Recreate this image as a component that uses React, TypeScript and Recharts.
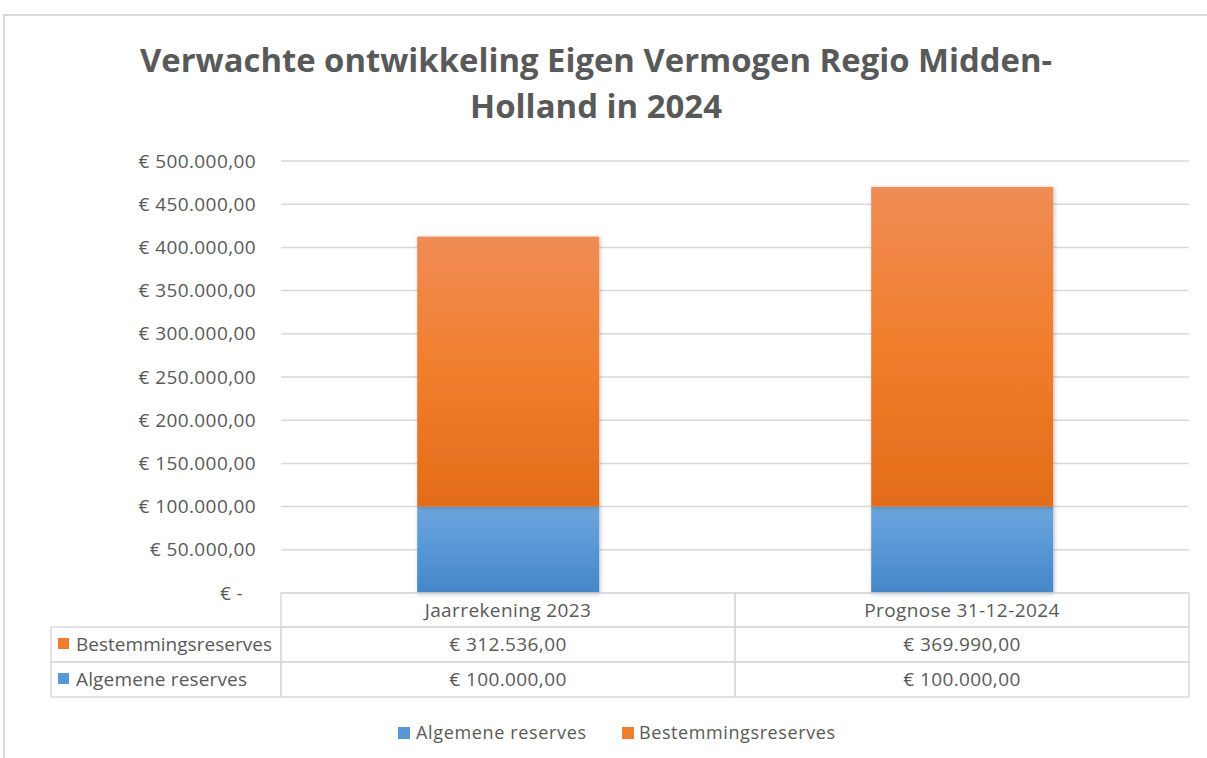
import React from 'react';
import { BarChart, Bar, XAxis, YAxis, CartesianGrid } from 'recharts';

const categories = ['Jaarrekening 2023', 'Prognose 31-12-2024'];
const algemeneReserves = [100000, 100000];
const bestemmingsReserves = [312536, 369990];
const yTicks = [0, 50000, 100000, 150000, 200000, 250000, 300000, 350000, 400000, 450000, 500000];
const seriesNames = ['Algemene reserves', 'Bestemmingsreserves'];
const titleLines = ['Verwachte ontwikkeling Eigen Vermogen Regio Midden-', 'Holland in 2024'];

const data = categories.map((c, i) => ({
  name: c,
  algemene: algemeneReserves[i],
  bestemmings: bestemmingsReserves[i],
}));

const W = 1207;
const H = 758;
const PLOT_L = 281;
const PLOT_R = 1189;
const PLOT_T = 161;
const PLOT_B = 593;
const ROWS = [593, 627, 662, 697];
const TABLE_L = 51;
const TEXT = '#595959';
const GRID = '#D9D9D9';
const FONT = '"Open Sans", sans-serif';
const X_AXIS_H = 105;
const FS = 19;
const LS = 0.4;

const euro = (v: number) => {
  const s = Math.round(v).toString().replace(/\B(?=(\d{3})+(?!\d))/g, '.');
  return '€ ' + s + ',00';
};

const YTick = (props: any) => {
  const { y, payload } = props;
  const v = payload.value;
  if (v === 0) {
    return (
      <text x={243} y={y + 6.5} textAnchor="end" fill={TEXT} fontSize={FS} fontFamily={FONT} letterSpacing={LS}>
        € -
      </text>
    );
  }
  return (
    <text x={256} y={y + 6.5} textAnchor="end" fill={TEXT} fontSize={FS} fontFamily={FONT} letterSpacing={LS}>
      {euro(v)}
    </text>
  );
};

const XTick = (props: any) => {
  const { x, payload } = props;
  const i = categories.indexOf(payload.value);
  const colW = (PLOT_R - PLOT_L) / categories.length;
  const left = x - colW / 2;
  const rowTexts = [payload.value, euro(bestemmingsReserves[i]), euro(algemeneReserves[i])];
  return (
    <g>
      {[0, 1, 2].map((r) => (
        <rect
          key={'r' + r}
          x={left}
          y={ROWS[r]}
          width={colW}
          height={ROWS[r + 1] - ROWS[r]}
          fill="none"
          stroke={GRID}
          strokeWidth={1.5}
        />
      ))}
      {rowTexts.map((t, r) => (
        <text
          key={'t' + r}
          x={x}
          y={(ROWS[r] + ROWS[r + 1]) / 2 + 6.5}
          textAnchor="middle"
          fill={TEXT}
          fontSize={FS}
          fontFamily={FONT}
          letterSpacing={LS}
        >
          {t}
        </text>
      ))}
    </g>
  );
};

const ShadowRect = (p: any) => (
  <rect x={p.x} y={p.y} width={p.width} height={p.height} fill={p.fill} filter="url(#barShadow)" />
);

export default function App() {
  return (
    <div style={{ position: 'absolute', left: 0, top: 0, width: W, height: H, background: '#fff' }}>
      <BarChart
        width={W}
        height={H}
        data={data}
        barCategoryGap="30%"
        margin={{ top: PLOT_T, right: W - PLOT_R, left: 0, bottom: H - PLOT_B - X_AXIS_H }}
      >
        <defs>
          <linearGradient id="gBlue" x1="0" y1="0" x2="0" y2="1">
            <stop offset="0%" stopColor="#6EA6DC" />
            <stop offset="50%" stopColor="#5797D6" />
            <stop offset="100%" stopColor="#4486C6" />
          </linearGradient>
          <linearGradient id="gOrange" x1="0" y1="0" x2="0" y2="1">
            <stop offset="0%" stopColor="#F08C55" />
            <stop offset="50%" stopColor="#F07E2C" />
            <stop offset="100%" stopColor="#E36C19" />
          </linearGradient>
          <filter id="barShadow" x="-10%" y="-10%" width="125%" height="125%">
            <feDropShadow dx="1" dy="1" stdDeviation="2" floodColor="#000" floodOpacity="0.25" />
          </filter>
        </defs>
        <CartesianGrid vertical={false} stroke={GRID} strokeWidth={1.5} />
        <XAxis
          dataKey="name"
          axisLine={false}
          tickLine={false}
          height={X_AXIS_H}
          interval={0}
          tick={<XTick />}
        />
        <YAxis
          width={PLOT_L}
          domain={[0, 500000]}
          ticks={yTicks}
          interval={0}
          axisLine={false}
          tickLine={false}
          tick={<YTick />}
        />
        <Bar dataKey="algemene" stackId="a" fill="url(#gBlue)" isAnimationActive={false} shape={<ShadowRect />} />
        <Bar dataKey="bestemmings" stackId="a" fill="url(#gOrange)" isAnimationActive={false} shape={<ShadowRect />} />
      </BarChart>
      <svg
        width={W}
        height={H}
        style={{ position: 'absolute', left: 0, top: 0, pointerEvents: 'none' }}
      >
        <rect x={4} y={15} width={W + 20} height={H + 20} fill="none" stroke={GRID} strokeWidth={2} />
        <text
          x={596}
          y={72}
          textAnchor="middle"
          fill={TEXT}
          fontSize={32}
          fontWeight="bold"
          fontFamily={FONT}
          textLength={912}
          lengthAdjust="spacingAndGlyphs"
        >
          {titleLines[0]}
        </text>
        <text
          x={596}
          y={118}
          textAnchor="middle"
          fill={TEXT}
          fontSize={32}
          fontWeight="bold"
          fontFamily={FONT}
          textLength={252}
          lengthAdjust="spacingAndGlyphs"
        >
          {titleLines[1]}
        </text>
        {[1, 2].map((r) => (
          <rect
            key={'lc' + r}
            x={TABLE_L}
            y={ROWS[r]}
            width={PLOT_L - TABLE_L}
            height={ROWS[r + 1] - ROWS[r]}
            fill="none"
            stroke={GRID}
            strokeWidth={1.5}
          />
        ))}
        <rect x={58} y={638} width={11} height={11} fill="#F07E2C" />
        <text x={76} y={651} fill={TEXT} fontSize={FS} fontFamily={FONT} textLength={196} lengthAdjust="spacing">
          {seriesNames[1]}
        </text>
        <rect x={58} y={673} width={11} height={11} fill="#5797D6" />
        <text x={76} y={686} fill={TEXT} fontSize={FS} fontFamily={FONT} textLength={171} lengthAdjust="spacing">
          {seriesNames[0]}
        </text>
        <rect x={398} y={727} width={12} height={12} fill="#5797D6" />
        <text x={416} y={739} fill={TEXT} fontSize={18} fontFamily={FONT} textLength={170} lengthAdjust="spacing">
          {seriesNames[0]}
        </text>
        <rect x={622} y={727} width={12} height={12} fill="#F07E2C" />
        <text x={639} y={739} fill={TEXT} fontSize={18} fontFamily={FONT} textLength={196} lengthAdjust="spacing">
          {seriesNames[1]}
        </text>
      </svg>
    </div>
  );
}
